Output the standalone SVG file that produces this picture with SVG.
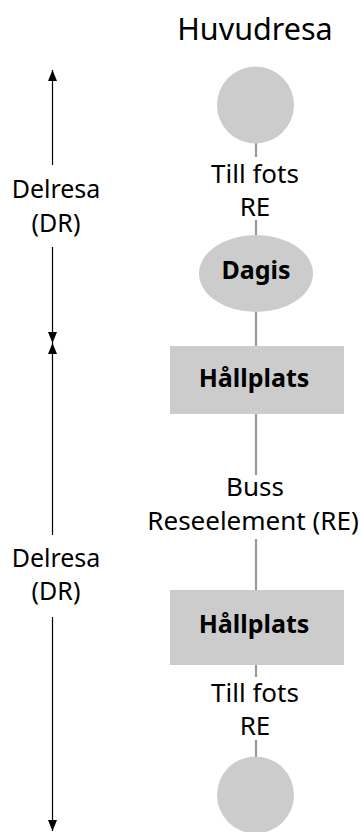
<svg xmlns="http://www.w3.org/2000/svg" width="362" height="832" viewBox="0 0 362 832">
<style>
text{font-family:"Noto Sans","Open Sans","DejaVu Sans",sans-serif;fill:#000;text-anchor:middle}
.t{font-size:26px}
.d{font-size:25px}
.b{font-size:25px;font-weight:bold}
.h{font-size:30.5px}
.n{fill:#cccccc}
.c{stroke:#999999;stroke-width:2.2;fill:none}
.a{stroke:#000;stroke-width:1.2;fill:none}
</style>
<defs>
<marker id="ah" markerUnits="userSpaceOnUse" markerWidth="11" markerHeight="9" refX="11" refY="4.5" orient="auto-start-reverse">
<path d="M0,0 L11,4.5 L0,9 z" fill="#000"/>
</marker>
</defs>
<text class="h" x="255" y="40">Huvudresa</text>
<g id="connectors">
<line class="c" x1="256" y1="143" x2="256" y2="157"/>
<line class="c" x1="256" y1="220" x2="256" y2="235"/>
<line class="c" x1="256" y1="312" x2="256" y2="346"/>
<line class="c" x1="256" y1="413" x2="256" y2="475"/>
<line class="c" x1="256" y1="539" x2="256" y2="590"/>
<line class="c" x1="256" y1="665" x2="256" y2="677"/>
<line class="c" x1="256" y1="740" x2="256" y2="757"/>
<text class="t" x="255" y="183">Till fots</text>
<text class="t" x="255" y="216">RE</text>
<text class="t" x="255" y="496">Buss</text>
<text class="t" x="253" y="530">Reseelement (RE)</text>
<text class="t" x="255" y="702">Till fots</text>
<text class="t" x="255" y="735">RE</text>
</g>
<g id="dr1">
<line class="a" x1="52.5" y1="165" x2="52.5" y2="70" marker-end="url(#ah)"/>
<line class="a" x1="52.5" y1="247" x2="52.5" y2="343" marker-end="url(#ah)"/>
<text class="d" x="56" y="198">Delresa</text>
<text class="d" x="56" y="232">(DR)</text>
</g>
<g id="dr2">
<line class="a" x1="52.5" y1="535" x2="52.5" y2="343" marker-end="url(#ah)"/>
<line class="a" x1="52.5" y1="617" x2="52.5" y2="831" marker-end="url(#ah)"/>
<text class="d" x="56" y="567">Delresa</text>
<text class="d" x="56" y="600">(DR)</text>
</g>
<g id="start"><circle class="n" cx="255.5" cy="105" r="38.5"/></g>
<g id="dagis"><ellipse class="n" cx="256" cy="273.5" rx="57" ry="38.5"/><text class="b" x="256" y="279">Dagis</text></g>
<g id="hallplats1"><rect class="n" x="170" y="346" width="174" height="68"/><text class="b" x="254" y="387">Hållplats</text></g>
<g id="hallplats2"><rect class="n" x="170" y="590" width="174" height="75"/><text class="b" x="254" y="633">Hållplats</text></g>
<g id="end"><circle class="n" cx="255.5" cy="795" r="38.5"/></g>
</svg>
